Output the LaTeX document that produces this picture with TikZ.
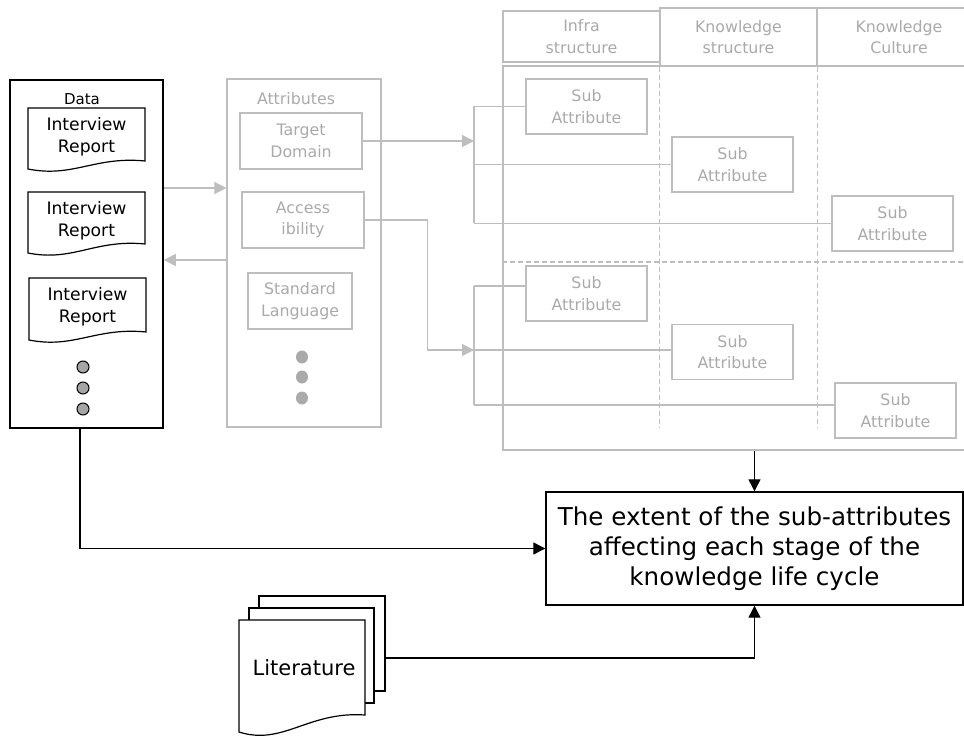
\documentclass[tikz,border=0pt]{standalone}
\usepackage{fontspec}
\setmainfont{DejaVu Sans}
\usetikzlibrary{arrows.meta,shapes.geometric}
\definecolor{gline}{RGB}{190,190,190}
\definecolor{gtext}{RGB}{170,170,170}
\definecolor{dotfill}{RGB}{165,165,165}

\tikzset{
  gbox/.style={draw=gline, line width=1.2pt, text=gtext, inner sep=0pt, align=center,
    font=\fontsize{15.8}{21.5}\selectfont},
  subbox/.style={gbox, minimum width=121pt, minimum height=55pt},
  gconn/.style={draw=gline, line width=1.2pt},
  garrow/.style={gconn, -{Triangle[length=12pt,width=12pt]}},
  gdash/.style={gconn, dash pattern=on 5pt off 3pt},
  barrow/.style={draw=black, line width=1.2pt, -{Triangle[length=12pt,width=12pt]}},
  doctext/.style={align=center, inner sep=0pt, font=\fontsize{17.2}{22}\selectfont},
  blackdot/.style={circle, draw=black, line width=1pt, fill=dotfill, minimum size=12pt, inner sep=0pt},
  graydot/.style={ellipse, fill=gtext, minimum width=12pt, minimum height=13pt, inner sep=0pt},
}

% report page with a wavy lower edge: name, left, right, top, right-bottom, left-bottom
\newcommand\reportdoc[6]{%
  \draw[line width=1.2pt, fill=white] (#2,#4) -- (#3,#4) -- (#3,#5)
    .. controls ({#3-50},{#5-5}) and ({#2+45},{#6+9}) .. (#2,#6) -- cycle;
  \node[doctext] (#1) at ({(#2+#3)/2},{#4+29}) {Interview\\Report};}

\begin{document}
\begin{tikzpicture}[x=1pt,y=-1pt]
\clip (0,0) rectangle (964,738);
\fill[white] (0,0) rectangle (964,738);

% ---- data column ----
\node[draw, line width=1.7pt, minimum width=153pt, minimum height=348pt, inner sep=0pt] (data) at (86.5,254) {};
\node[inner sep=0pt, font=\fontsize{15}{18}\selectfont] (datalbl) at (82,99) {Data};
\reportdoc{rep1}{28}{145}{108}{161}{169}
\reportdoc{rep2}{28}{145}{192}{244}{253}
\reportdoc{rep3}{29}{146}{278}{332}{340}
\node[blackdot] (d1) at (83,367) {};
\node[blackdot] (d2) at (83,388) {};
\node[blackdot] (d3) at (83,409) {};

% ---- attributes column ----
\node[gbox, minimum width=154pt, minimum height=348pt] (attr) at (304,253) {};
\node[text=gtext, inner sep=0pt, font=\fontsize{15.8}{20}\selectfont] (attrlbl) at (296,99) {Attributes};
\node[gbox, minimum width=122pt, minimum height=56pt] (target) at (301,141) {Target\\Domain};
\node[gbox, minimum width=122pt, minimum height=56pt] (access) at (303,220) {Access\\ibility};
\node[gbox, minimum width=104pt, minimum height=56pt] (stdlang) at (300,301) {Standard\\Language};
\node[graydot] (g1) at (302,357) {};
\node[graydot] (g2) at (302,377) {};
\node[graydot] (g3) at (302,398) {};

\draw[garrow] (data.east |- 0,188) -- (attr.west |- 0,188);
\draw[garrow] (attr.west |- 0,260) -- (data.east |- 0,260);

% ---- sub-attribute grid ----
\node[gbox, minimum width=157pt, minimum height=51pt] (infra) at (581.5,36.5) {Infra\\structure};
\node[gbox, minimum width=157pt, minimum height=58pt] (kstruct) at (738.5,37) {Knowledge\\structure};
\node[gbox, minimum width=164pt, minimum height=58pt] (kcult) at (899,37) {Knowledge\\Culture};
\node[gbox, minimum width=478pt, minimum height=384pt] (grid) at (742,258) {};
\draw[gdash] (kstruct.south west) -- (kstruct.south west |- 0,427);
\draw[gdash] (kstruct.south east) -- (kstruct.south east |- 0,427);
\draw[gdash] (grid.west |- 0,262) -- (grid.east |- 0,262);

\node[subbox] (s1) at (586.5,106.5) {Sub\\Attribute};
\node[subbox] (s2) at (732.5,164.5) {Sub\\Attribute};
\node[subbox] (s3) at (892.5,223.5) {Sub\\Attribute};
\node[subbox] (s4) at (586.5,293.5) {Sub\\Attribute};
\node[subbox] (s5) at (732.5,352) {Sub\\Attribute};
\node[subbox] (s6) at (895.5,410.5) {Sub\\Attribute};

% first bracket: Target Domain
\coordinate (br1) at (474,141);
\draw[garrow] (target.east) -- (br1);
\draw[gconn] (br1 |- s1.west) -- (br1 |- s3.west);
\draw[gconn] (br1 |- s1.west) -- (s1.west);
\draw[gconn] (br1 |- s2.west) -- (s2.west);
\draw[gconn] (br1 |- s3.west) -- (s3.west);

% second bracket: Accessibility
\coordinate (br2) at (474,350);
\draw[garrow] (access.east) -- ++(63,0) |- (br2);
\draw[gconn] (br2 |- 0,286) -- (br2 |- 0,405);
\draw[gconn] (br2 |- 0,286) -- (s4.west |- 0,286);
\draw[gconn] (br2) -- (s5.west |- br2);
\draw[gconn] (br2 |- 0,405) -- (s6.west |- 0,405);

% ---- result ----
\node[draw, line width=1.4pt, minimum width=417pt, minimum height=113pt, inner sep=0pt, align=center,
  font=\fontsize{24.6}{30}\selectfont] (result) at (754.5,548.5)
  {The extent of the sub-attributes\\affecting each stage of the\\knowledge life cycle};

\draw[barrow] (result.north |- grid.south) -- (result.north);
\draw[barrow] ([xshift=-6.5pt]data.south) |- (result.west);

% ---- literature stack ----
\node[draw, line width=1.2pt, fill=white, minimum width=126pt, minimum height=95pt, inner sep=0pt] (litback) at (322,643.5) {};
\node[draw, line width=1.2pt, fill=white, minimum width=125pt, minimum height=95pt, inner sep=0pt] (litmid) at (311.5,655.5) {};
\draw[line width=1.2pt, fill=white] (239,620) -- (365,620) -- (365,715)
  .. controls (308,711) and (283,746) .. (239,732) -- cycle;
\node[inner sep=0pt, font=\fontsize{21}{24}\selectfont] (lit) at (304,668) {Literature};

\draw[barrow] (litback.east |- 0,658) -| (result.south);
\end{tikzpicture}
\end{document}
